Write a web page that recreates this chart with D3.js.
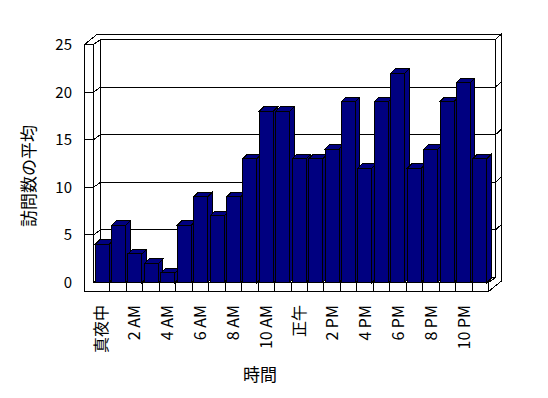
<!DOCTYPE html>
<html>
<head>
<meta charset="utf-8">
<script src="https://cdn.jsdelivr.net/npm/d3@7"></script>
<style>
body{margin:0;background:#fff;}
text{font-family:"Noto Sans CJK JP",sans-serif;fill:#000;}
</style>
</head>
<body>
<svg id="chart" width="548" height="398"></svg>
<script>
var hours=["真夜中","1 AM","2 AM","3 AM","4 AM","5 AM","6 AM","7 AM","8 AM","9 AM","10 AM","11 AM",
    "正午","1 PM","2 PM","3 PM","4 PM","5 PM","6 PM","7 PM","8 PM","9 PM","10 PM","11 PM"];
var visits=[4,6,3,2,1,6,9,7,9,13,18,18,13,13,14,19,12,19,22,12,14,19,21,13];
var yTicks=[0,5,10,15,20,25];
var xTitle="時間";
var yTitle="訪問数の平均";

var svg=d3.select("#chart");

// front edges of the box, depth offsets for floor, wall slab and bars
var left=84.5, x0=93.5, x1=488.5, floorH=9;
var dep={x:7,y:-5}, wall={x:6,y:-5.5}, bd={x:4.5,y:-4.5};

var x=d3.scaleBand().domain(hours).range([x0,x1]);
var xb=d3.scaleBand().domain(hours).range([x0,x1]).paddingInner(0.15).paddingOuter(0.1);
var y=d3.scaleLinear().domain([0,25]).range([282.5,44.5]);

var y0=y(0), yT=y(25);

var g=svg.append("g")
    .attr("shape-rendering","crispEdges")
    .attr("stroke","#000")
    .attr("stroke-width",1);

function poly(pts){ return "M"+pts.map(function(p){return p[0]+","+p[1];}).join("L")+"Z"; }

// back wall face
g.append("path")
    .attr("d",poly([[x0+dep.x,yT+dep.y],[x1+dep.x,yT+dep.y],[x1+dep.x,y0+dep.y],[x0+dep.x,y0+dep.y]]))
    .attr("fill","#fff");

// top of walls
g.append("path")
    .attr("d",poly([[left,yT],[x0,yT],[x0+dep.x,yT+dep.y],[x1+dep.x,yT+dep.y],
        [x1+dep.x+wall.x,yT+dep.y+wall.y],[left+dep.x+wall.x,yT+dep.y+wall.y]]))
    .attr("fill","#fff");

// right side slab
g.append("path")
    .attr("d",poly([[x1,y0],[x1,y0+floorH],[x1+dep.x+wall.x,y0+floorH+dep.y+wall.y],
        [x1+dep.x+wall.x,yT+dep.y+wall.y],[x1+dep.x,yT+dep.y],[x1+dep.x,y0+dep.y]]))
    .attr("fill","#fff");

// left wall inner face
g.append("path")
    .attr("d",poly([[x0,yT],[x0+dep.x,yT+dep.y],[x0+dep.x,y0+dep.y],[x0,y0]]))
    .attr("fill","#fff");

// left wall front face
g.append("path")
    .attr("d","M"+left+","+(y0+floorH)+"L"+left+","+yT+"L"+x0+","+yT+"L"+x0+","+y0)
    .attr("fill","#fff");

// floor top
g.append("path")
    .attr("d",poly([[x0,y0],[x1,y0],[x1+dep.x,y0+dep.y],[x0+dep.x,y0+dep.y]]))
    .attr("fill","#fff");

// floor front
g.append("path")
    .attr("d","M"+x0+","+y0+"L"+x1+","+y0+"L"+x1+","+(y0+floorH)+"L"+left+","+(y0+floorH))
    .attr("fill","#fff");

g.selectAll("line.cell")
    .data(hours.slice(1))
    .enter().append("line")
    .attr("class","cell")
    .attr("x1",function(d){return x(d);})
    .attr("x2",function(d){return x(d);})
    .attr("y1",y0)
    .attr("y2",y0+floorH);

// gridlines
var grid=yTicks.filter(function(v){return v>0 && v<25;});
grid.forEach(function(v){
    var yy=y(v);
    g.append("line").attr("x1",x0+dep.x).attr("x2",x1+dep.x).attr("y1",yy+dep.y).attr("y2",yy+dep.y);
    g.append("line").attr("x1",x0).attr("x2",x0+dep.x).attr("y1",yy).attr("y2",yy+dep.y);
    g.append("line").attr("x1",left).attr("x2",x0).attr("y1",yy).attr("y2",yy);
    g.append("line").attr("x1",x1+dep.x).attr("x2",x1+dep.x+wall.x).attr("y1",yy+dep.y).attr("y2",yy+dep.y+wall.y);
});

// bars
var bars=g.selectAll("g.bar")
    .data(hours.map(function(h,i){return {h:h,v:visits[i]};}))
    .enter().append("g")
    .attr("class","bar")
    .attr("fill","#000080");

bars.append("path")
    .attr("d",function(d){
        var a=xb(d.h)+xb.bandwidth(), t=y(d.v);
        return poly([[a,t],[a+bd.x,t+bd.y],[a+bd.x,y0+bd.y],[a,y0]]);
    });
bars.append("path")
    .attr("d",function(d){
        var a=xb(d.h), b=a+xb.bandwidth(), t=y(d.v);
        return poly([[a,t],[a+bd.x,t+bd.y],[b+bd.x,t+bd.y],[b,t]]);
    });
bars.append("rect")
    .attr("x",function(d){return xb(d.h);})
    .attr("y",function(d){return y(d.v);})
    .attr("width",xb.bandwidth())
    .attr("height",function(d){return y0-y(d.v);});

// y tick labels
svg.selectAll("text.ytick")
    .data(yTicks)
    .enter().append("text")
    .attr("class","ytick")
    .attr("x",72)
    .attr("y",function(d){return y(d);})
    .attr("dy","0.36em")
    .attr("text-anchor","end")
    .style("font-size","15px")
    .text(function(d){return d;});

// x labels, every other hour
svg.selectAll("text.xtick")
    .data(hours.filter(function(d,i){return i%2==0;}))
    .enter().append("text")
    .attr("class","xtick")
    .attr("transform",function(d){return "translate("+(x(d)+x.bandwidth()/2)+",305) rotate(-90)";})
    .attr("dy","0.36em")
    .attr("text-anchor","end")
    .style("font-size","16px")
    .text(function(d){return d;});

svg.append("text")
    .attr("x",260)
    .attr("y",375)
    .attr("dy","0.36em")
    .attr("text-anchor","middle")
    .style("font-size","17px")
    .text(xTitle);

svg.append("text")
    .attr("transform","translate(29,176) rotate(-90)")
    .attr("dy","0.36em")
    .attr("text-anchor","middle")
    .style("font-size","17px")
    .text(yTitle);
</script>
</body>
</html>
